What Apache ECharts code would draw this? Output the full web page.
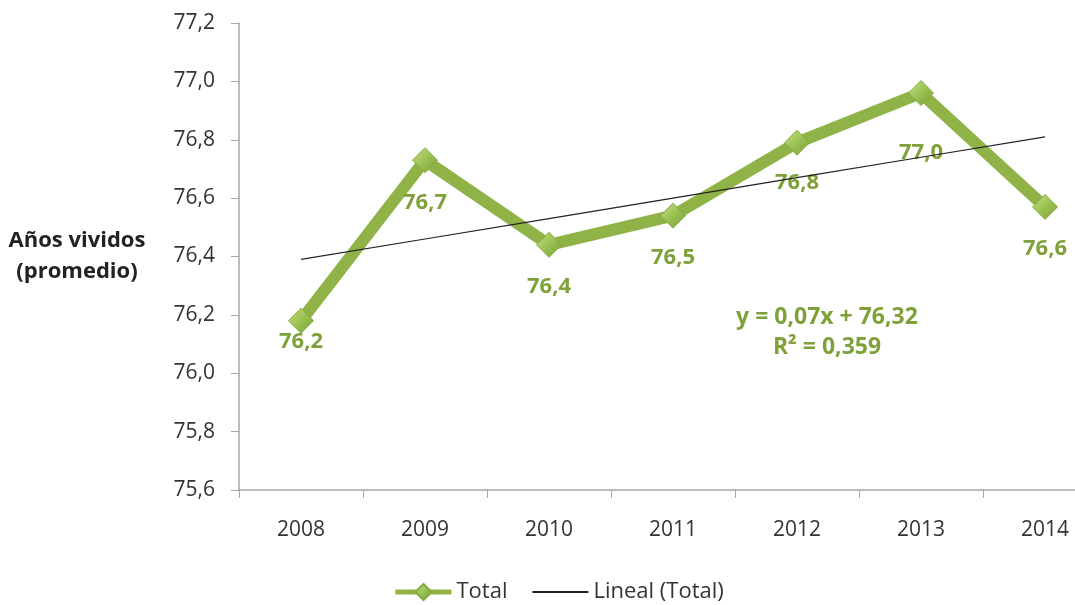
<!DOCTYPE html>
<html>
<head>
<meta charset="utf-8">
<script src="https://cdn.jsdelivr.net/npm/echarts@6/dist/echarts.min.js"></script>
<style>
  html, body { margin: 0; padding: 0; background: #fff; }
  #chart { width: 1075px; height: 605px; }
</style>
</head>
<body>
<div id="chart"></div>
<script>
var years = ["2008", "2009", "2010", "2011", "2012", "2013", "2014"];
var total = [76.18, 76.73, 76.44, 76.54, 76.79, 76.96, 76.57];
var lineal = [76.39, 76.46, 76.53, 76.60, 76.67, 76.74, 76.81];
var equation = ["y = 0,07x + 76,32", "R² = 0,359"];
// how far below each point its label sits (px)
var labelGap = [-3, 19, 18, 18, 16, 36, 18];

var green = "#8fb347";
var labelGreen = "#7ea13a";
var font = "Open Sans";

function fmt(v) { return v.toFixed(1).replace(".", ","); }

var totalData = total.map(function (v, i) {
  return { value: v, label: { distance: labelGap[i] } };
});

var myChart = echarts.init(document.getElementById("chart"));
var option = {
  animation: false,
  grid: { left: 239, width: 868, top: 23, bottom: 115, outerBoundsMode: "none" },
  xAxis: {
    type: "category",
    data: years,
    boundaryGap: true,
    axisLine: { lineStyle: { color: "#a6a6a6", width: 1.5 } },
    axisTick: { show: true, length: 8, lineStyle: { color: "#a6a6a6" } },
    axisLabel: { color: "#333", fontSize: 21, fontFamily: font, margin: 30 }
  },
  yAxis: {
    type: "value",
    min: 75.6,
    max: 77.2,
    interval: 0.2,
    name: "Años vividos\n(promedio)",
    nameLocation: "middle",
    nameRotate: 0,
    nameGap: 162,
    nameTextStyle: { color: "#222", fontSize: 22, fontWeight: "bold", fontFamily: font, align: "center", lineHeight: 31 },
    splitLine: { show: false },
    axisLine: { show: true, lineStyle: { color: "#a6a6a6", width: 1.5 } },
    axisTick: { show: true, length: 8, lineStyle: { color: "#a6a6a6" } },
    axisLabel: { color: "#333", fontSize: 21, fontFamily: font, margin: 24, formatter: fmt }
  },
  legend: {
    bottom: -3,
    left: 388,
    itemGap: 24,
    itemWidth: 56,
    itemHeight: 20,
    textStyle: { color: "#333", fontSize: 22, fontFamily: font },
    data: [
      { name: "Total", lineStyle: { width: 5 } },
      { name: "Lineal (Total)", itemStyle: { opacity: 0 } }
    ]
  },
  graphic: [
    {
      type: "text",
      x: 827,
      y: 302,
      style: {
        text: equation.join("\n"),
        fill: labelGreen,
        font: "bold 23px " + font,
        align: "center",
        lineHeight: 30
      }
    }
  ],
  series: [
    {
      name: "Total",
      type: "line",
      data: totalData,
      symbol: "diamond",
      symbolSize: [25, 25],
      lineStyle: { color: green, width: 12 },
      itemStyle: {
        color: new echarts.graphic.LinearGradient(0, 0, 1, 1, [
          { offset: 0, color: "#c5df8a" },
          { offset: 0.5, color: "#9bc152" },
          { offset: 1, color: "#7a9e34" }
        ]),
        borderColor: "#86aa3f",
        borderWidth: 1
      },
      label: {
        show: true,
        position: "bottom",
        color: labelGreen,
        fontSize: 22,
        fontWeight: "bold",
        fontFamily: font,
        formatter: function (p) { return fmt(p.value); }
      },
      z: 2
    },
    {
      name: "Lineal (Total)",
      type: "line",
      data: lineal,
      symbol: "none",
      lineStyle: { color: "#222", width: 1.2 },
      itemStyle: { color: "#222" },
      z: 3
    }
  ]
};
myChart.setOption(option);
</script>
</body>
</html>
